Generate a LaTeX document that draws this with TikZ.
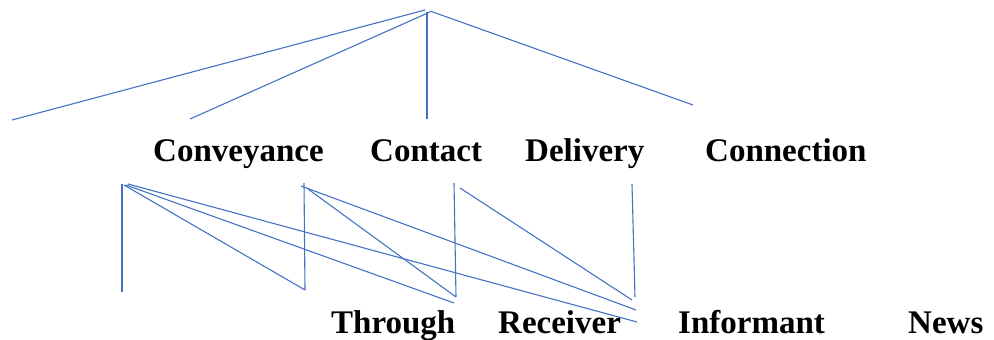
\documentclass[tikz,border=0pt]{standalone}
\usepackage{fontspec}
\setmainfont{Liberation Serif}
\definecolor{lineblue}{HTML}{4472C4}

\begin{document}
\begin{tikzpicture}[x=1pt, y=-1pt,
    link/.style={draw=lineblue, line width=1.1pt},
    word/.style={anchor=base west, inner sep=0pt, font=\fontsize{33}{33}\selectfont\bfseries}]
    \useasboundingbox (0,0) rectangle (994,340);
    % words
    \node[word] (cnv) at (153,161) {Conveyance};
    \node[word] (cnt) at (370,161) {Contact};
    \node[word] (dlv) at (525,161) {Delivery};
    \node[word] (cnx) at (705,161) {Connection};
    \node[word] (thr) at (331,333) {Through};
    \node[word] (rcv) at (498,333) {Receiver};
    \node[word] (inf) at (678,333) {Informant};
    \node[word] (nws) at (908,333) {News};
    % top fan
    \coordinate (apexA) at (425,10);
    \coordinate (apexB) at (430,12);
    \coordinate (apexC) at (427,12);
    \coordinate (apexD) at (430,11);
    \coordinate (topA) at (12,120);
    \coordinate (topB) at (190,119);
    \coordinate (topC) at (427,119);
    \coordinate (topD) at (693,105);
    \draw[link] (apexA) -- (topA);
    \draw[link] (apexB) -- (topB);
    \draw[link] (apexC) -- (topC);
    \draw[link] (apexD) -- (topD);
    % lower strokes
    \coordinate (cnvA) at (122,184);
    \coordinate (cnvB) at (124,185);
    \coordinate (cnvC) at (126,185);
    \coordinate (cnvD) at (128,184);
    \coordinate (cntA) at (304,183);
    \coordinate (cntB) at (301,186);
    \coordinate (cntC) at (308,189);
    \coordinate (dlvA) at (454,183);
    \coordinate (dlvB) at (460,188);
    \coordinate (cnxA) at (632,184);
    \draw[link] (cnvA) -- (122,292);
    \draw[link] (cnvB) -- (305,290);
    \draw[link] (cnvC) -- (454,303);
    \draw[link] (cnvD) -- (637,322);
    \draw[link] (cntA) -- (305,290);
    \draw[link] (cntB) -- (636,310);
    \draw[link] (cntC) -- (456,297);
    \draw[link] (dlvA) -- (456,297);
    \draw[link] (dlvB) -- (632,300);
    \draw[link] (cnxA) -- (635,297);
\end{tikzpicture}
\end{document}
